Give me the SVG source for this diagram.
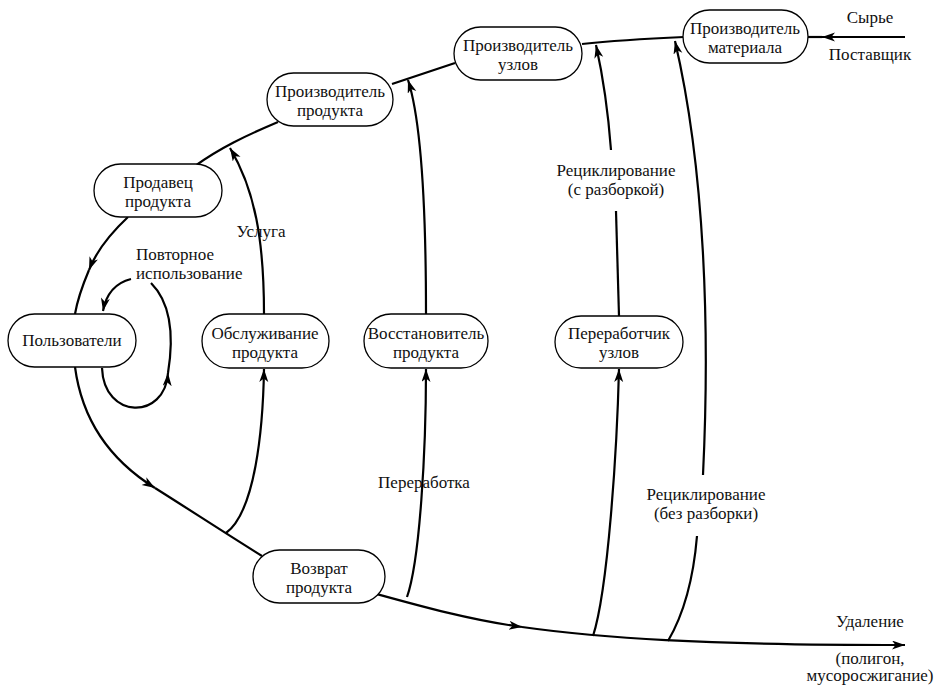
<svg xmlns="http://www.w3.org/2000/svg" width="936" height="685" viewBox="0 0 936 685">
<defs>
<marker id="ah" markerUnits="userSpaceOnUse" markerWidth="16" markerHeight="10" refX="13" refY="4.5" orient="auto">
<path d="M0,0 L13,4.5 L0,9 L3.5,4.5 z" fill="#000"/>
</marker>
</defs>
<style>
.n rect{fill:#fff;stroke:#000;stroke-width:1.3}
text{font-size:17px;fill:#111;text-anchor:middle}
.c path{fill:none;stroke:#000;stroke-width:2.2}
.a{marker-end:url(#ah)}
</style>
<rect width="936" height="685" fill="#fff"/>
<g class="c" id="connectors">
<path d="M 684 37 C 640 39, 610 41, 582 44"/>
<path d="M 455 63 L 392 84"/>
<path d="M 278 122 C 245 136, 220 148, 195 166"/>
<path class="a" d="M 128 217 C 112 232, 96 252, 89 270"/>
<path d="M 89 270 C 81 289, 77 302, 75 314"/>
<path class="a" d="M 75 367 C 82 420, 110 460, 155 488"/>
<path d="M 155 488 C 190 510, 225 533, 262 556"/>
<path class="a" d="M 373 593 C 420 606, 470 620, 522 627"/>
<path class="a" d="M 522 627 C 600 638, 700 645, 905 645"/>
<path class="a" d="M 905 37 L 822 37"/>
<path d="M 822 37 L 808 37"/>
<path class="a" d="M 131 279 C 115 283, 106 295, 103 311"/>
<path class="a" d="M 102 368 C 104 420, 165 420, 168 373"/>
<path d="M 168 373 C 175 330, 168 300, 151 283"/>
<path class="a" d="M 226 533 C 255 512, 263 430, 264 369"/>
<path class="a" d="M 264 314 C 264 240, 255 190, 230 148"/>
<path class="a" d="M 407 597 C 420 560, 426 450, 426 369"/>
<path class="a" d="M 426 314 C 426 200, 421 120, 408 80"/>
<path class="a" d="M 593 636 C 608 590, 617 450, 619 369"/>
<path d="M 619 316 L 616 211"/>
<path class="a" d="M 611 150 C 608 110, 602 72, 596 45"/>
<path class="a" d="M 703 475 C 710 330, 705 170, 675 41"/>
<path d="M 668 641 C 685 612, 694 572, 697 536"/>
</g>
<g font-family="'Liberation Serif', 'DejaVu Serif', serif">
<g class="n" id="n_material"><rect x="683" y="10" width="125" height="53" rx="26.5"/><text x="745" y="34">Производитель</text><text x="745" y="53">материала</text></g>
<g class="n" id="n_nodes"><rect x="454" y="27" width="128" height="53" rx="26.5"/><text x="518" y="51">Производитель</text><text x="518" y="70">узлов</text></g>
<g class="n" id="n_producer"><rect x="267" y="73" width="126" height="53" rx="26.5"/><text x="330" y="97">Производитель</text><text x="330" y="116">продукта</text></g>
<g class="n" id="n_seller"><rect x="94" y="164" width="128" height="53" rx="26.5"/><text x="158" y="188">Продавец</text><text x="158" y="207">продукта</text></g>
<g class="n" id="n_users"><rect x="8" y="314" width="128" height="53" rx="26.5"/><text x="72" y="346">Пользователи</text></g>
<g class="n" id="n_service"><rect x="202" y="314" width="127" height="54" rx="27"/><text x="265" y="339">Обслуживание</text><text x="265" y="358">продукта</text></g>
<g class="n" id="n_restorer"><rect x="364" y="314" width="124" height="54" rx="27"/><text x="426" y="339">Восстановитель</text><text x="426" y="358">продукта</text></g>
<g class="n" id="n_recycler"><rect x="555" y="316" width="128" height="52" rx="26"/><text x="619" y="339">Переработчик</text><text x="619" y="358">узлов</text></g>
<g class="n" id="n_return"><rect x="253" y="550" width="132" height="53" rx="26.5"/><text x="319" y="574">Возврат</text><text x="319" y="593">продукта</text></g>
<g id="labels">
<text x="870" y="23">Сырье</text>
<text x="870" y="60">Поставщик</text>
<text x="136" y="260" style="text-anchor:start">Повторное</text>
<text x="136" y="279" style="text-anchor:start">использование</text>
<text x="261" y="237">Услуга</text>
<text x="424" y="488">Переработка</text>
<text x="616" y="176">Рециклирование</text>
<text x="616" y="195">(с разборкой)</text>
<text x="706" y="500">Рециклирование</text>
<text x="706" y="519">(без разборки)</text>
<text x="870" y="627">Удаление</text>
<text x="870" y="664">(полигон,</text>
<text x="870" y="681">мусоросжигание)</text>
</g>
</g>
</svg>
